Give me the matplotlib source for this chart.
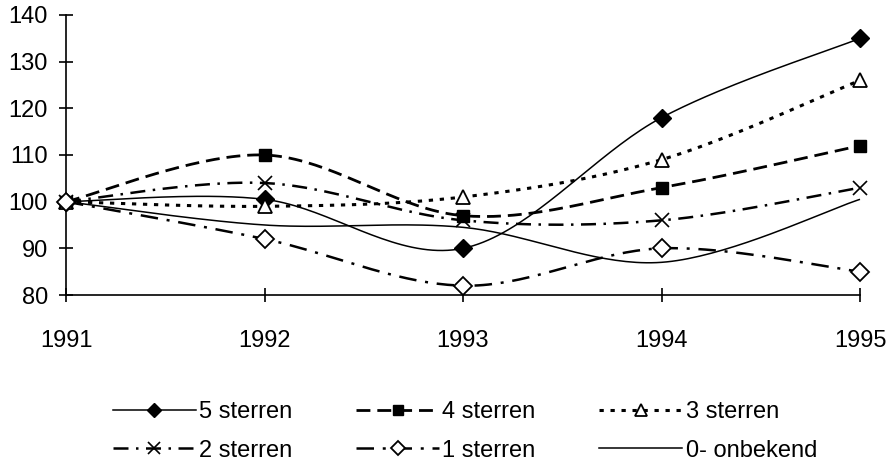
import numpy as np
import matplotlib
matplotlib.use("Agg")
import matplotlib.pyplot as plt
from matplotlib.lines import Line2D

plt.rcParams['font.family'] = ['Liberation Sans', 'DejaVu Sans']

years = [1991, 1992, 1993, 1994, 1995]
labels = ["5 sterren", "4 sterren", "3 sterren", "2 sterren", "1 sterren", "0- onbekend"]
sterren_5 = [100, 100.5, 90, 118, 135]
sterren_4 = [100, 110, 97, 103, 112]
sterren_3 = [100, 99, 101, 109, 126]
sterren_2 = [100, 104, 96, 96, 103]
sterren_1 = [100, 92, 82, 90, 85]
onbekend_0 = [100, 95, 94.5, 87, 100.5]
y_ticks = [80, 90, 100, 110, 120, 130, 140]


def smooth(xs, ys, n=40):
    """Cardinal (Catmull-Rom) Bezier curve through the points, like a smoothed line chart."""
    x = np.asarray(xs, float)
    y = np.asarray(ys, float)
    px = np.concatenate([[x[0]], x, [x[-1]]])
    py = np.concatenate([[y[0]], y, [y[-1]]])
    out_x, out_y = [], []
    t = np.linspace(0, 1, n)
    for i in range(len(x) - 1):
        p0 = np.array([px[i + 1], py[i + 1]])
        p3 = np.array([px[i + 2], py[i + 2]])
        b1 = p0 + (np.array([px[i + 2], py[i + 2]]) - np.array([px[i], py[i]])) / 6
        b2 = p3 - (np.array([px[i + 3], py[i + 3]]) - np.array([px[i + 1], py[i + 1]])) / 6
        pts = ((1 - t)[:, None] ** 3 * p0 + 3 * ((1 - t) ** 2 * t)[:, None] * b1
               + 3 * ((1 - t) * t ** 2)[:, None] * b2 + (t ** 3)[:, None] * p3)
        if i > 0:
            pts = pts[1:]
        out_x.extend(pts[:, 0])
        out_y.extend(pts[:, 1])
    return np.array(out_x), np.array(out_y)


styles = [
    dict(values=sterren_5, ls='-', lw=1.1, marker='D', ms=9, mfc='black', mew=1.0),
    dict(values=sterren_4, ls=(0, (5, 2.5)), lw=2.0, marker='s', ms=9, mfc='black', mew=1.0),
    dict(values=sterren_3, ls=(0, (1.4, 2.2)), lw=2.2, marker='^', ms=10, mfc='white', mew=1.3),
    dict(values=sterren_2, ls=(0, (6, 3, 1, 3)), lw=1.8, marker='x', ms=10, mfc='black', mew=1.2),
    dict(values=sterren_1, ls=(0, (7, 3.5, 1.2, 3.5)), lw=1.8, marker='D', ms=9, mfc='white', mew=1.3),
    dict(values=onbekend_0, ls='-', lw=1.1, marker=None, ms=0, mfc='black', mew=1.0),
]

fig = plt.figure(figsize=(8.89, 4.65), dpi=100)
ax = fig.add_axes([66 / 889, 170 / 465, (860 - 66) / 889, (295 - 15) / 465])

handles = []
for st in styles:
    sx, sy = smooth(years, st['values'])
    ax.plot(sx, sy, color='black', ls=st['ls'], lw=st['lw'], solid_capstyle='butt',
            dash_capstyle='butt', zorder=2, clip_on=False)
    if st['marker']:
        ax.plot(years, st['values'], ls='none', marker=st['marker'], ms=st['ms'],
                mfc=st['mfc'], mec='black', mew=st['mew'], zorder=3, clip_on=False)
    handles.append(Line2D([], [], color='black', ls=st['ls'], lw=st['lw'],
                          marker=st['marker'], ms=st['ms'] * 0.8, mfc=st['mfc'],
                          mec='black', mew=st['mew']))

ax.set_xlim(1991, 1995)
ax.set_ylim(80, 140)
ax.set_xticks(years)
ax.set_yticks(y_ticks)
ax.spines['top'].set_visible(False)
ax.spines['right'].set_visible(False)
for s in ('left', 'bottom'):
    ax.spines[s].set_linewidth(1.2)
ax.tick_params(axis='both', direction='inout', length=10, width=1.2, labelsize=17)
ax.tick_params(axis='x', pad=20)
ax.tick_params(axis='y', pad=8)

# legend rows are ordered column-wise by matplotlib, so reorder for row-wise reading
order = [0, 3, 1, 4, 2, 5]
leg = fig.legend([handles[i] for i in order], [labels[i] for i in order],
                 ncol=3, loc='upper left', bbox_to_anchor=(113 / 889, 1 - 401 / 465),
                 frameon=False, fontsize=17, handlelength=3.5, handletextpad=0.15,
                 columnspacing=2.7, labelspacing=0.7, numpoints=1,
                 borderaxespad=0, borderpad=0)

fig.savefig("out.png", dpi=100)
